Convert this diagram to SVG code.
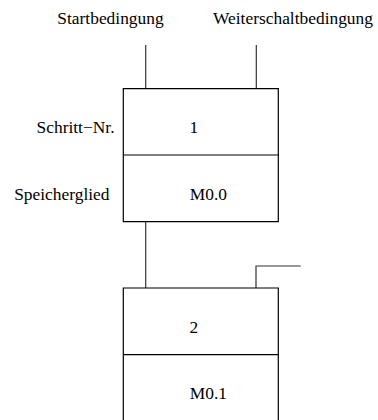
<svg xmlns="http://www.w3.org/2000/svg" width="378" height="420" viewBox="0 0 378 420" font-family="Liberation Serif, serif" font-size="17.4">
  <style>
    .box { fill: none; stroke: #000; stroke-width: 1.2; }
    .wire { fill: none; stroke: #333; stroke-width: 1.2; }
  </style>
  <rect width="378" height="420" fill="#fff"/>

  <!-- column headings -->
  <text text-anchor="middle" x="110.5" y="23.5">Startbedingung</text>
  <text text-anchor="middle" x="293" y="23.5">Weiterschaltbedingung</text>

  <!-- row labels -->
  <text text-anchor="end" x="114.5" y="133.3">Schritt−Nr.</text>
  <text text-anchor="end" x="109.5" y="200">Speicherglied</text>

  <g id="connectors">
    <path class="wire" d="M145.7,45 V88.7"/>
    <path class="wire" d="M256.3,45 V88.7"/>
    <path class="wire" d="M145.7,221.7 V288"/>
    <path class="wire" d="M256,288 V266 H300.7"/>
  </g>

  <g id="step1">
    <path class="box" d="M123.3,221.7 V88.7 H278.3 V221.7 Z"/>
    <path class="box" d="M123.3,155 H278.3"/>
    <text x="189.5" y="133.3">1</text>
    <text x="189.8" y="200">M0.0</text>
  </g>

  <g id="step2">
    <path class="box" d="M123.3,421 V288 H278.3 V421"/>
    <path class="box" d="M123.3,354.7 H278.3"/>
    <text x="189.5" y="332.7">2</text>
    <text x="189.8" y="399">M0.1</text>
  </g>
</svg>
